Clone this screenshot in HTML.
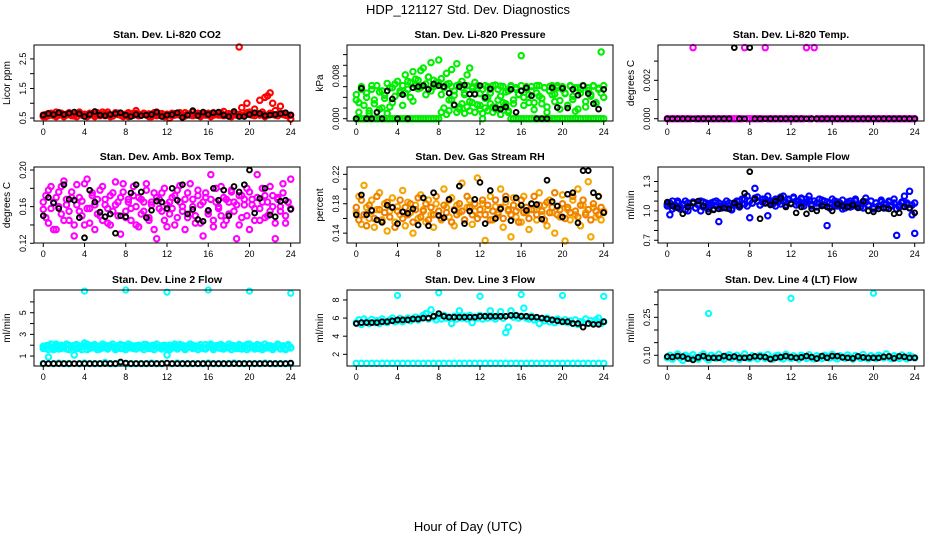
<!DOCTYPE html>
<html><head><meta charset="utf-8"><style>
body{margin:0;background:#fff;}
svg{display:block;font-family:"Liberation Sans",sans-serif;}
</style></head><body>
<svg id="chart" width="936" height="540" viewBox="0 0 936 540" xmlns="http://www.w3.org/2000/svg">
<rect width="936" height="540" fill="#fff"/>
<text x="468" y="14" font-size="13" text-anchor="middle">HDP_121127  Std. Dev. Diagnostics</text>
<text x="468" y="531" font-size="13" text-anchor="middle">Hour of Day (UTC)</text>
</svg>
<script>
const xTicks=[0,4,8,12,16,20,24];
const co2Red=[0.6,0.55,0.65,0.62,0.58,0.7,0.6,0.66,0.55,0.63,0.68,0.6,0.57,0.65,0.7,0.62,0.6,0.55,0.66,0.63,0.6,0.68,0.58,0.62,0.65,0.7,0.6,0.57,0.63,0.66,0.6,0.55,0.62,0.68,0.65,0.6,0.75,0.58,0.62,0.66,0.6,0.64,0.55,0.62,0.7,0.6,0.65,0.58,0.62,0.5,0.66,0.6,0.62,0.68,0.6,0.57,0.64,0.62,0.7,0.6,0.66,0.58,0.62,0.65,0.6,0.55,0.68,0.62,0.6,0.66,0.72,0.6,0.65,0.58,0.7,0.62,2.95,0.85,0.6,1.0,0.7,0.62,0.8,0.65,1.1,0.7,1.2,1.25,1.35,1.0,0.75,0.62,0.9,0.65,0.6,0.58,0.45];
const co2Red2=[0.55,0.62,0.58,0.66,0.6,0.55,0.68,0.62,0.57,0.6,0.65,0.58,0.62,0.55,0.66,0.6,0.63,0.58,0.6,0.65,0.55,0.62,0.6,0.7,0.58,0.62,0.55,0.6,0.68,0.62,0.6,0.58,0.63,0.55,0.62,0.6,0.66,0.58,0.6,0.65,0.62,0.55,0.6,0.68,0.58,0.62,0.6,0.55,0.63,0.6,0.58,0.65,0.62,0.6,0.55,0.68,0.62,0.6,0.58,0.64,0.6,0.55,0.62,0.6,0.66,0.58,0.6,0.62,0.68,0.6,0.58,0.62,0.6,0.55,0.65,0.6,0.62,0.58,0.6,0.68,0.62,0.6,0.58,0.64,0.6,0.62,0.55,0.6,0.66,0.62,0.6,0.58,0.64,0.62,0.6,0.58,0.6];
const co2Black=[0.6,0.65,0.62,0.68,0.62,0.66,0.7,0.64,0.55,0.62,0.72,0.6,0.58,0.62,0.65,0.68,0.6,0.55,0.62,0.58,0.6,0.62,0.7,0.55,0.6,0.62,0.68,0.52,0.6,0.75,0.58,0.7,0.62,0.68,0.7,0.6,0.55,0.72,0.55,0.55,0.62,0.68,0.65,0.58,0.6,0.62,0.65,0.68,0.6];
const pressGreen=[0.0045,0.003,0.0055,0,0.004,0.0015,0.0062,0.0035,0,0.005,0.002,0.0044,0.001,0.0058,0.003,0.0065,0,0.0052,0.0025,0.0048,0.007,0.004,0.0033,0.0074,0.0056,0.009,0.0062,0.0045,0.0078,0.0105,0.006,0.0068,0.011,0.0075,0.0058,0.0085,0.0066,0.0092,0.0052,0.0103,0.0064,0.007,0.0045,0.0082,0.0095,0.006,0.0068,0.0057,0.0047,0,0.0062,0.004,0.0055,0.0022,0.0063,0.0035,0.0061,0.003,0.005,0.0015,0.006,0.0028,0.0055,0.0045,0.0118,0.004,0.006,0.003,0.0052,0.0017,0.0062,0.0042,0.0028,0.0058,0.0012,0.006,0.0045,0.0032,0.0062,0.0018,0.0055,0.0047,0.0025,0.0061,0.0036,0.0014,0.0058,0.0048,0.0062,0.0022,0.0053,0.0042,0.0061,0.003,0.0057,0.0125,0.004];
const pressGreen2=[0.0035,0.0012,0.006,0.0025,0.0048,0.001,0.0055,0.0028,0.0062,0.0018,0.0052,0.0038,0.0066,0.0022,0.0058,0.0042,0.007,0.0048,0.0062,0.0082,0.0055,0.0068,0.0088,0.0062,0.0072,0.0058,0.0095,0.0065,0.0078,0.0052,0.0072,0.0062,0.0068,0.0045,0.0058,0.0064,0.0035,0.006,0.0044,0.0062,0.0022,0.0058,0.0048,0.0062,0.0032,0.0057,0.0046,0.0062,0.0025,0.0055,0.0038,0.006,0.0048,0.0062,0.0018,0.0055,0.0042,0.006,0.0028,0.0052,0.0062,0.0035,0.0058,0.0046,0.0062,0.0025,0.0055,0.0045,0.006,0.003,0.0048,0.0062,0.0038,0.0058,0.0022,0.0052,0.0062,0.0046,0.0058,0.0034,0.006,0.0048,0.0025,0.0062,0.0042,0.0058,0.0018,0.0055,0.0062,0.0032,0.0058,0.0045,0.0062,0.0028,0.0055,0.0048,0.0062];
const pressZero=[0,0,0,0,0,0,0,0,0,0,0,0,0,0,0,0,0,0,0,0,0,0,0,0,0,0,0,0,0,0,0,0,0,0.0012,0.002,0.0008,0.0015,0.0035,0.0025,0.0012,0.0018,0.0028,0.001,0.0022,0.0015,0.003,0.0012,0.0026,0.0018,0.001,0.002,0.0015,0.0028,0.0012,0.0022,0.0018,0.0008,0.0016,0.0024,0.0012,0,0,0,0,0,0,0,0,0,0,0,0,0,0,0,0,0,0,0,0,0,0,0,0,0,0,0,0,0,0,0,0,0,0,0,0,0];
const pressBlack=[0,0.0057,0,0,0.0012,0,0.0052,0.0037,0,0.0045,0,0.0058,0.006,0.0062,0.0055,0.0065,0.0062,0.006,0.0048,0.0026,0.006,0.0063,0.0046,0.0046,0.0062,0.004,0.0056,0.002,0.0018,0.0022,0.0055,0.0012,0.0052,0.0058,0.0043,0,0,0,0.0058,0.0021,0.0057,0.002,0.0055,0.0044,0.0062,0.0047,0.0028,0.0018,0.0055];
const tempMag=[0,0,0,0,0,0,0,0,0,0,0.0037,0,0,0,0,0,0,0,0,0,0,0,0,0,0,0,0,0,0,0,0.0037,0,0,0,0,0,0,0,0.0037,0,0,0,0,0,0,0,0,0,0,0,0,0,0,0,0.0037,0,0,0.0037,0,0,0,0,0,0,0,0,0,0,0,0,0,0,0,0,0,0,0,0,0,0,0,0,0,0,0,0,0,0,0,0,0,0,0,0,0,0,0];
const tempBlack=[0,0,0,0,0,0,0,0,0,0,0,0,0,0.0037,0,0,0.0037,0,0,0,0,0,0,0,0,0,0,0,0,0,0,0,0,0,0,0,0,0,0,0,0,0,0,0,0,0,0,0,0];
const boxMag=[0.157,0.172,0.142,0.182,0.165,0.135,0.176,0.152,0.188,0.162,0.145,0.17,0.128,0.184,0.155,0.166,0.14,0.19,0.158,0.175,0.135,0.168,0.15,0.182,0.162,0.142,0.172,0.155,0.187,0.165,0.13,0.176,0.148,0.168,0.158,0.182,0.14,0.17,0.152,0.165,0.185,0.145,0.162,0.175,0.125,0.168,0.155,0.18,0.138,0.165,0.158,0.172,0.148,0.183,0.16,0.135,0.175,0.152,0.168,0.142,0.178,0.162,0.128,0.17,0.155,0.195,0.145,0.165,0.158,0.182,0.14,0.168,0.152,0.176,0.165,0.125,0.172,0.148,0.162,0.18,0.135,0.168,0.158,0.195,0.145,0.165,0.172,0.15,0.182,0.16,0.125,0.17,0.155,0.185,0.142,0.165,0.19];
const boxMag2=[0.165,0.148,0.178,0.158,0.135,0.17,0.16,0.182,0.145,0.168,0.155,0.176,0.14,0.162,0.17,0.15,0.185,0.158,0.142,0.172,0.162,0.152,0.178,0.145,0.168,0.158,0.14,0.175,0.162,0.15,0.17,0.185,0.155,0.165,0.145,0.172,0.16,0.138,0.168,0.155,0.178,0.148,0.165,0.135,0.17,0.158,0.175,0.145,0.162,0.152,0.17,0.14,0.178,0.165,0.155,0.168,0.148,0.185,0.16,0.15,0.172,0.142,0.165,0.175,0.152,0.168,0.138,0.18,0.16,0.15,0.17,0.145,0.165,0.178,0.155,0.162,0.14,0.172,0.168,0.15,0.176,0.162,0.145,0.17,0.158,0.18,0.148,0.165,0.155,0.172,0.142,0.168,0.16,0.175,0.15,0.165,0.158];
const boxBlack=[0.15,0.17,0.164,0.158,0.184,0.168,0.167,0.148,0.126,0.178,0.165,0.154,0.149,0.152,0.131,0.15,0.149,0.175,0.184,0.176,0.148,0.156,0.166,0.165,0.158,0.18,0.167,0.184,0.152,0.157,0.146,0.144,0.156,0.18,0.167,0.178,0.15,0.182,0.176,0.184,0.2,0.153,0.169,0.18,0.151,0.149,0.166,0.167,0.157];
const rhOrange=[0.168,0.19,0.152,0.205,0.175,0.16,0.185,0.148,0.172,0.195,0.158,0.18,0.143,0.17,0.188,0.155,0.176,0.165,0.198,0.15,0.182,0.168,0.14,0.178,0.16,0.192,0.172,0.155,0.185,0.165,0.148,0.18,0.17,0.158,0.2,0.175,0.162,0.188,0.15,0.178,0.168,0.208,0.158,0.175,0.185,0.152,0.17,0.215,0.165,0.18,0.13,0.172,0.19,0.158,0.176,0.165,0.2,0.148,0.182,0.17,0.135,0.188,0.162,0.175,0.155,0.19,0.168,0.145,0.18,0.172,0.158,0.195,0.165,0.178,0.15,0.185,0.168,0.14,0.176,0.162,0.192,0.128,0.172,0.158,0.185,0.165,0.2,0.15,0.178,0.168,0.21,0.135,0.175,0.162,0.19,0.158,0.17];
const rhOrange2=[0.175,0.158,0.185,0.165,0.15,0.178,0.17,0.16,0.19,0.172,0.155,0.168,0.182,0.162,0.175,0.148,0.17,0.185,0.16,0.175,0.165,0.18,0.155,0.172,0.188,0.162,0.17,0.18,0.158,0.175,0.165,0.19,0.17,0.16,0.178,0.168,0.185,0.155,0.172,0.165,0.18,0.17,0.158,0.19,0.175,0.165,0.18,0.16,0.172,0.185,0.165,0.178,0.158,0.17,0.185,0.168,0.175,0.16,0.19,0.172,0.165,0.178,0.17,0.155,0.185,0.168,0.175,0.16,0.172,0.19,0.165,0.178,0.17,0.158,0.182,0.168,0.175,0.195,0.165,0.172,0.18,0.16,0.175,0.168,0.19,0.17,0.162,0.178,0.185,0.165,0.172,0.158,0.18,0.17,0.165,0.175,0.168];
const rhBlack=[0.165,0.192,0.165,0.171,0.158,0.155,0.178,0.175,0.153,0.169,0.167,0.173,0.151,0.188,0.15,0.195,0.164,0.161,0.186,0.171,0.204,0.153,0.17,0.186,0.209,0.153,0.198,0.16,0.173,0.186,0.157,0.188,0.178,0.171,0.18,0.179,0.159,0.212,0.183,0.177,0.162,0.193,0.195,0.154,0.225,0.225,0.195,0.19,0.168];
const flowBlue=[1.07,0.96,1.1,1.04,1.08,1.02,1.06,1.1,1.0,1.05,1.08,1.03,1.07,1.0,1.09,1.04,1.06,1.08,1.02,1.1,0.89,1.05,1.07,1.03,1.08,1.01,1.06,1.1,1.04,1.07,1.12,1.05,0.93,1.08,1.23,1.14,1.06,1.09,1.12,0.95,1.08,1.1,1.05,1.12,1.07,1.15,1.09,1.12,1.08,1.14,1.06,1.1,1.13,1.08,1.12,1.15,1.05,1.1,1.08,1.12,1.06,1.1,0.85,1.08,1.12,1.05,1.09,1.07,1.11,1.03,1.08,1.1,1.05,1.12,1.07,1.04,1.09,1.13,1.06,1.1,1.02,1.08,1.05,1.11,1.07,1.03,1.09,1.06,1.12,0.75,1.04,1.08,1.15,1.06,1.2,0.96,0.77];
const flowBlue2=[1.05,1.08,1.02,1.06,1.1,1.04,1.07,1.01,1.08,1.05,1.09,1.03,1.06,1.1,1.04,1.08,1.02,1.06,1.09,1.05,1.08,1.03,1.07,1.1,1.05,1.02,1.08,1.06,1.1,1.12,1.07,1.15,1.1,1.08,1.13,1.1,1.06,1.12,1.08,1.15,1.1,1.07,1.12,1.09,1.14,1.1,1.06,1.11,1.08,1.13,1.1,1.07,1.12,1.05,1.09,1.11,1.07,1.1,1.04,1.08,1.11,1.06,1.09,1.03,1.07,1.1,1.05,1.08,1.02,1.06,1.09,1.04,1.08,1.1,1.05,1.07,1.03,1.09,1.06,1.1,1.04,1.08,1.05,1.09,1.03,1.07,1.1,1.05,1.08,1.02,1.06,1.09,1.05,1.08,1.03,1.06,1.08];
const flowBlack=[1.09,1.05,1.03,0.97,1.04,1.08,1.1,1.05,0.99,1.01,1.02,1.03,1.02,1.08,1.05,1.18,1.4,1.12,0.92,1.08,1.06,1.1,1.13,1.04,1.07,0.98,1.04,0.97,1.02,1.0,1.05,1.04,1.0,1.07,1.05,1.04,1.06,1.03,1.1,1.0,0.99,1.02,1.03,1.02,0.97,0.98,1.04,1.03,0.98];
const l2Cyan=[1.9,1.7,2.0,1.8,1.6,2.1,1.85,1.7,1.95,1.65,2.0,1.8,1.75,2.05,1.7,1.9,2.2,1.6,1.85,2.0,1.75,1.9,1.65,2.1,1.8,1.7,2.0,1.85,1.75,1.95,2.05,1.7,1.9,1.8,2.0,1.7,1.95,1.85,1.75,2.05,1.8,1.9,1.7,2.0,1.85,1.75,1.95,1.8,1.7,2.0,1.85,1.9,1.75,2.05,1.8,1.7,1.95,1.85,2.0,1.75,1.9,1.8,1.7,2.05,1.85,1.95,1.75,1.8,2.0,1.7,1.9,1.85,1.75,2.0,1.8,1.9,1.7,1.95,1.85,2.05,1.75,1.8,1.9,1.7,2.0,1.85,1.75,1.95,1.8,1.7,1.9,2.0,1.75,1.85,1.7,1.9,1.8];
const l2Cyan3=[1.7,1.95,1.6,2.1,1.75,1.9,1.65,2.0,1.8,2.1,1.6,1.9,2.0,1.7,1.85,1.6,1.95,2.1,1.7,1.8,2.05,1.6,1.9,1.75,2.0,1.65,1.85,2.1,1.6,1.8,1.7,2.0,1.6,2.1,1.75,1.9,1.65,2.0,1.8,1.6,2.05,1.7,1.95,1.6,2.1,1.8,1.65,2.0,1.9,1.6,1.75,2.1,1.65,1.85,2.0,1.6,1.8,2.1,1.7,1.9,1.6,2.05,1.75,1.65,1.9,2.1,1.6,1.95,1.75,2.05,1.65,1.8,2.1,1.6,1.95,1.7,2.05,1.65,1.8,1.6,2.1,1.9,1.65,2.05,1.7,1.6,2.1,1.75,1.95,1.6,1.85,2.1,1.65,1.95,1.6,2.05,1.75];
const l2Cyan2=[0.3,0.9,0.3,0.35,0.3,0.3,1.1,0.3,0.35,0.3,0.3,0.3,0.4,0.3,0.3,0.35,0.3,0.3,0.3,0.3,0.3,0.35,0.3,0.3,1.1,0.3,0.35,0.3,0.3,0.3,0.3,0.3,0.35,0.3,0.3,0.3,0.3,0.35,0.3,0.3,0.3,0.3,0.3,0.35,0.3,0.3,0.3,0.3,0.3];
const l2Out=[7.0,7.1,6.9,7.1,7.0,6.8];
const l2Black=[0.3,0.3,0.3,0.3,0.3,0.3,0.3,0.3,0.3,0.3,0.3,0.3,0.3,0.3,0.3,0.45,0.35,0.3,0.3,0.3,0.3,0.3,0.3,0.3,0.35,0.3,0.3,0.3,0.3,0.3,0.3,0.3,0.3,0.3,0.3,0.3,0.3,0.3,0.3,0.3,0.3,0.3,0.3,0.3,0.3,0.3,0.3,0.3,0.35];
const l3Cyan=[5.5,5.8,5.3,5.9,5.6,5.4,5.85,5.5,5.7,5.4,5.9,5.6,5.5,5.8,6.0,5.6,5.7,5.95,5.6,5.8,6.0,5.7,5.9,6.1,5.8,6.0,6.3,6.5,5.9,6.9,6.1,5.8,6.2,5.9,6.3,6.0,6.1,5.4,6.2,5.9,6.8,6.0,6.2,5.9,6.3,5.5,6.1,6.0,6.3,5.9,6.2,6.0,6.8,6.1,5.9,6.2,6.7,6.0,4.4,5.0,6.8,6.1,6.3,6.0,6.2,7.1,6.0,5.9,6.2,5.8,6.0,5.4,5.9,5.7,6.0,5.6,5.8,5.5,5.9,5.7,5.6,5.8,5.5,5.7,5.4,5.8,5.3,5.6,5.5,5.9,5.4,5.7,5.5,5.8,6.0,5.4,5.6];
const l3Low=[1.0,1.0,1.0,1.0,1.0,1.0,1.0,1.0,1.0,1.0,1.0,1.0,1.0,1.0,1.0,1.0,1.0,1.0,1.0,1.0,1.0,1.0,1.0,1.0,1.0,1.0,1.0,1.0,1.0,1.0,1.0,1.0,1.0,1.0,1.0,1.0,1.0,1.0,1.0,1.0,1.0,1.0,1.0,1.0,1.0,1.0,1.0,1.0,1.0];
const l3Out=[8.5,8.8,8.4,8.6,8.5,8.4];
const l3Black=[5.4,5.5,5.5,5.5,5.5,5.6,5.6,5.7,5.8,5.8,5.8,5.9,5.9,6.0,6.0,6.2,6.5,6.2,6.1,6.1,6.1,6.1,6.1,6.1,6.2,6.2,6.2,6.2,6.2,6.2,6.3,6.3,6.2,6.2,6.1,6.1,6.0,5.9,5.8,5.7,5.6,5.6,5.4,5.4,5.0,5.4,5.3,5.3,5.6];
const l4Cyan=[0.09,0.1,0.085,0.095,0.105,0.09,0.08,0.1,0.095,0.088,0.102,0.092,0.085,0.098,0.105,0.09,0.082,0.1,0.094,0.088,0.104,0.09,0.085,0.097,0.102,0.088,0.095,0.1,0.084,0.092,0.105,0.09,0.087,0.098,0.093,0.086,0.1,0.095,0.088,0.103,0.09,0.085,0.097,0.1,0.09,0.086,0.104,0.093,0.088,0.098,0.092,0.085,0.1,0.095,0.088,0.102,0.09,0.086,0.098,0.093,0.087,0.1,0.095,0.089,0.104,0.091,0.086,0.098,0.094,0.088,0.101,0.092,0.085,0.099,0.095,0.088,0.103,0.09,0.086,0.098,0.093,0.087,0.1,0.095,0.09,0.105,0.092,0.087,0.098,0.094,0.088,0.101,0.092,0.086,0.099,0.094,0.09];
const l4Out=[0.265,0.325,0.345];
const l4OutX=[4,12,20];
const l4Black=[0.095,0.093,0.097,0.095,0.087,0.082,0.092,0.097,0.09,0.09,0.09,0.097,0.092,0.095,0.09,0.09,0.092,0.096,0.095,0.093,0.085,0.09,0.093,0.097,0.093,0.09,0.092,0.097,0.093,0.087,0.097,0.09,0.097,0.097,0.092,0.09,0.088,0.096,0.092,0.09,0.09,0.09,0.094,0.096,0.088,0.096,0.094,0.09,0.09];
const outX=[4,8,12,16,20,24];

const svg=document.getElementById('chart');
const NS='http://www.w3.org/2000/svg';
function mk(tag,attrs){const e=document.createElementNS(NS,tag);for(const k in attrs)e.setAttribute(k,attrs[k]);return e;}
const colL=[34,347,658],rowT=[45,167,290],W=266,H=76;
const panels=[
 {name:'co2',title:'Stan. Dev. Li-820 CO2',ylab:'Licor ppm',dom:[0.4,2.97],ticks:[0.5,1,1.5,2,2.5],labs:[[0.5,'0.5'],[1.5,'1.5'],[2.5,'2.5']],series:[[co2Red,'#ff0000'],[co2Red2,'#ff0000'],[co2Black,'#000']]},
 {name:'pressure',title:'Stan. Dev. Li-820 Pressure',ylab:'kPa',dom:[-0.00043,0.0138],ticks:[0,0.002,0.004,0.006,0.008,0.010,0.012],labs:[[0,'0.000'],[0.008,'0.008']],series:[[pressGreen,'#00ee00'],[pressGreen2,'#00ee00'],[pressZero,'#00ee00'],[pressBlack,'#000']]},
 {name:'temp',title:'Stan. Dev. Li-820 Temp.',ylab:'degrees C',dom:[-0.00012,0.00384],ticks:[0,0.001,0.002,0.003],labs:[[0,'0.000'],[0.002,'0.002']],series:[[tempMag,'#ff00ff'],[tempBlack,'#000']]},
 {name:'amb-box-temp',title:'Stan. Dev. Amb. Box Temp.',ylab:'degrees C',dom:[0.1203,0.2033],ticks:[0.12,0.14,0.16,0.18,0.20],labs:[[0.12,'0.12'],[0.16,'0.16'],[0.20,'0.20']],series:[[boxMag,'#ff00ff'],[boxMag2,'#ff00ff'],[boxBlack,'#000']]},
 {name:'gas-rh',title:'Stan. Dev. Gas Stream RH',ylab:'percent',dom:[0.1266,0.230],ticks:[0.14,0.16,0.18,0.20,0.22],labs:[[0.14,'0.14'],[0.18,'0.18'],[0.22,'0.22']],series:[[rhOrange,'#f5a500'],[rhOrange2,'#f08000'],[rhBlack,'#000']]},
 {name:'sample-flow',title:'Stan. Dev. Sample Flow',ylab:'ml/min',dom:[0.672,1.448],ticks:[0.7,0.8,0.9,1.0,1.1,1.2,1.3],labs:[[0.7,'0.7'],[1.0,'1.0'],[1.3,'1.3']],series:[[flowBlue,'#0000ff'],[flowBlue2,'#0000ff'],[flowBlack,'#000']]},
 {name:'line2-flow',title:'Stan. Dev. Line 2 Flow',ylab:'ml/min',dom:[0.08,7.1],ticks:[1,2,3,4,5,6],labs:[[1,'1'],[3,'3'],[5,'5']],series:[[l2Cyan,'#00ffff'],[l2Cyan3,'#00ffff'],[l2Cyan2,'#00ffff'],[l2Black,'#000']],out:[outX,l2Out,'#00ffff']},
 {name:'line3-flow',title:'Stan. Dev. Line 3 Flow',ylab:'ml/min',dom:[0.71,9.1],ticks:[2,4,6,8],labs:[[2,'2'],[4,'4'],[6,'6'],[8,'8']],series:[[l3Cyan,'#00ffff'],[l3Low,'#00ffff'],[l3Black,'#000']],out:[outX,l3Out,'#00ffff']},
 {name:'line4-flow',title:'Stan. Dev. Line 4 (LT) Flow',ylab:'ml/min',dom:[0.0577,0.358],ticks:[0.10,0.15,0.20,0.25,0.30,0.35],labs:[[0.10,'0.10'],[0.25,'0.25']],series:[[l4Cyan,'#00ffff'],[l4Black,'#000']],out:[l4OutX,l4Out,'#00ffff']}
];
panels.forEach((p,i)=>{
 const L=colL[i%3],T=rowT[Math.floor(i/3)];
 const g=mk('g',{});
 
 
 svg.appendChild(g);
 const xs=v=>L+W*(v+0.9)/25.8;
 const ys=v=>T+H-H*(v-p.dom[0])/(p.dom[1]-p.dom[0]);
 const t=mk('text',{x:L+W/2,y:T-7,'font-size':'10.5','font-weight':'bold','text-anchor':'middle'});
 t.textContent=p.title;
 
 
 g.appendChild(t);
 const yl=mk('text',{x:0,y:0,'font-size':'10','text-anchor':'middle',transform:`translate(${L-24},${T+H/2}) rotate(-90)`});
 yl.textContent=p.ylab;
 
 
 g.appendChild(yl);
 const pts=mk('g',{});
 
 
 g.appendChild(pts);
 const clip=(y)=>Math.max(T+2,Math.min(T+H-2,y));
 p.series.forEach(([arr,col])=>{
  const n=arr.length;
  const blk=col==='#000';
  arr.forEach((v,k)=>{
   const c=mk('circle',{cx:xs(k*24/(n-1)),cy:clip(ys(v)),r:blk?2.4:2.7,fill:'none',stroke:col,'stroke-width':blk?1.9:2.1});
   
   
   pts.appendChild(c);
  });
 });
 if(p.out){
  const [ox,oy,col]=p.out;
  oy.forEach((v,k)=>{
   const c=mk('circle',{cx:xs(ox[k]),cy:ys(v),r:2.6,fill:'none',stroke:col,'stroke-width':2});
   
   
   pts.appendChild(c);
  });
 }
 const box=mk('rect',{x:L,y:T,width:W,height:H,fill:'none',stroke:'#000','stroke-width':1});
 
 
 g.appendChild(box);
 xTicks.forEach(v=>{
  const x=xs(v);
  g.appendChild(mk('line',{x1:x,y1:T+H,x2:x,y2:T+H+4,stroke:'#000'}));
  const tl=mk('text',{x:x,y:T+H+14,'font-size':'9','text-anchor':'middle'});
  tl.textContent=v;
  
  
  g.appendChild(tl);
 });
 p.ticks.forEach(v=>{
  const y=ys(v);
  g.appendChild(mk('line',{x1:L-4,y1:y,x2:L,y2:y,stroke:'#000'}));
 });
 p.labs.forEach(([v,s])=>{
  const tl=mk('text',{x:0,y:0,'font-size':'9','text-anchor':'middle',transform:`translate(${L-8},${ys(v)}) rotate(-90)`});
  tl.textContent=s;
  
  
  g.appendChild(tl);
 });
});
</script>
</body></html>
